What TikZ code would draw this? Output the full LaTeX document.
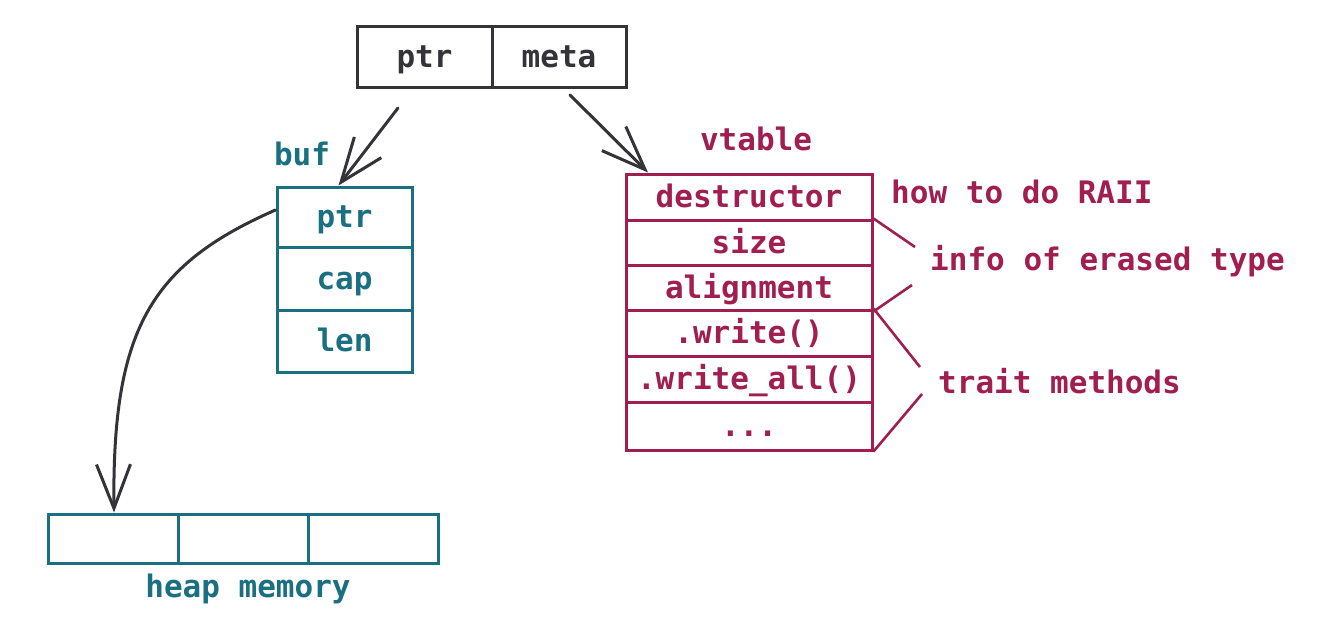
\documentclass[tikz,border=0pt]{standalone}
\usepackage{fontspec}
\setmonofont{DejaVu Sans Mono}
\usetikzlibrary{arrows.meta}
\definecolor{inkgray}{HTML}{333338}
\definecolor{teal}{HTML}{1A7080}
\definecolor{crim}{HTML}{A01E50}
\begin{document}
\begin{tikzpicture}[x=1pt,y=-1pt,
  every node/.style={font=\ttfamily\bfseries\fontsize{31}{36}\selectfont, inner sep=0pt, text height=21, text depth=0},
  cell/.style={draw, line width=3pt, minimum width=#1, anchor=center},
  blackcell/.style={cell=135, draw=inkgray, text=inkgray, minimum height=60},
  bufcell/.style={cell=135, draw=teal, text=teal},
  heapcell/.style={cell=130, draw=teal, minimum height=49},
  vcell/.style={cell=246, draw=crim, text=crim},
  tlabel/.style={text=teal},
  clabel/.style={text=crim},
  arr/.style={draw=inkgray, line width=3pt, line cap=round, -{Straight Barb[length=44pt,width=34pt,line width=3pt]}},
  brace/.style={draw=crim, line width=2.6pt}
]
\useasboundingbox[fill=white] (0,0) rectangle (1335,642);

% top fat pointer
\node[blackcell] (fptr) at (424.5,57) {ptr};
\node[blackcell, minimum width=134] (fmeta) at (559,57) {meta};

% buf
\node[tlabel] (buflbl) at (302,155) {buf};
\node[bufcell, minimum height=60] (bptr) at (344.5,217) {ptr};
\node[bufcell, minimum height=63] (bcap) at (344.5,278.5) {cap};
\node[bufcell, minimum height=62] (blen) at (344.5,341) {len};

% heap
\node[heapcell] (h1) at (113,538.5) {};
\node[heapcell] (h2) at (243,538.5) {};
\node[heapcell] (h3) at (373,538.5) {};
\node[tlabel] (heaplbl) at (248,587) {heap memory};

% vtable
\node[clabel] (vtlbl) at (756,140) {vtable};
\node[vcell, minimum height=46] (vdes) at (749,197) {destructor};
\node[vcell, minimum height=45] (vsize) at (749,242.5) {size};
\node[vcell, minimum height=45] (valign) at (749,287.5) {alignment};
\node[vcell, minimum height=46] (vwrite) at (749,333) {.write()};
\node[vcell, minimum height=46] (vwall) at (749,379) {.write\_all()};
\node[vcell, minimum height=48] (vdots) at (749,426) {...};

% annotations
\node[clabel, anchor=west] (raii) at (891,193) {how to do RAII};
\node[clabel, anchor=west] (info) at (930,260) {info of erased type};
\node[clabel, anchor=west] (trait) at (938,383) {trait methods};

\coordinate (b1) at (915,247);
\coordinate (b2) at (912,285);
\coordinate (b3) at (920,367);
\coordinate (b4) at (922,394);
\draw[brace] (vsize.north east) -- (b1);
\draw[brace] (valign.south east) -- (b2);
\draw[brace] (vwrite.north east) -- (b3);
\draw[brace] (vdots.south east) -- (b4);

% arrows
\coordinate (s1) at (398,108);
\coordinate (s2) at (570,95);
\draw[arr] (s1) -- ([xshift=-6]bptr.north);
\draw[arr] (s2) -- ([xshift=-101]vdes.north);
\draw[arr] ([yshift=7]bptr.west) .. controls (150,265) and (112,330) .. ([xshift=1]h1.north);
\end{tikzpicture}
\end{document}
